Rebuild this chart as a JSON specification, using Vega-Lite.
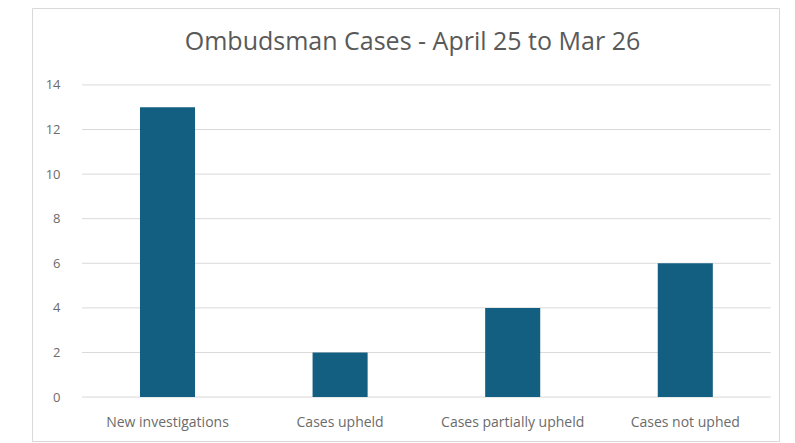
{
  "$schema": "https://vega.github.io/schema/vega-lite/v6.json",
  "width": 747,
  "height": 433,
  "autosize": {"type": "none"},
  "padding": {"left": 32, "top": 8, "right": 16, "bottom": 2},
  "background": "white",
  "config": {"view": {"stroke": "#d9d9d9", "strokeWidth": 1}, "font": "Open Sans"},
  "title": {"text": "Ombudsman Cases - April 25 to Mar 26", "fontSize": 25, "fontWeight": "normal", "color": "#595959", "anchor": "middle", "frame": "group", "baseline": "top", "offset": -47, "dx": 7},
  "datasets": {
    "cases": [
      {"category": "New investigations", "count": 13},
      {"category": "Cases upheld", "count": 2},
      {"category": "Cases partially upheld", "count": 4},
      {"category": "Cases not uphed", "count": 6}
    ],
    "grid": [{"v": 0}, {"v": 2}, {"v": 4}, {"v": 6}, {"v": 8}, {"v": 10}, {"v": 12}, {"v": 14}]
  },
  "layer": [
    {
      "data": {"name": "grid"},
      "mark": {"type": "rule", "color": "#d9d9d9", "strokeWidth": 1},
      "encoding": {
        "y": {"field": "v", "type": "quantitative", "scale": {"domain": [-1.97, 17.45], "nice": false, "zero": false},
              "axis": {"values": [0, 2, 4, 6, 8, 10, 12, 14], "grid": false, "domain": false, "ticks": false, "title": null, "labelColor": "#6b6b6b", "labelFontSize": 13, "offset": -30, "labelPadding": 2}},
        "x": {"datum": 0.067, "type": "quantitative", "scale": {"domain": [0, 1], "nice": false, "zero": false}, "axis": null},
        "x2": {"datum": 0.989}
      }
    },
    {
      "data": {"name": "cases"},
      "mark": {"type": "bar", "color": "#125f82"},
      "encoding": {
        "x": {"field": "category", "type": "nominal", "sort": null,
              "scale": {"paddingInner": 0.681, "paddingOuter": 0.5045, "align": 0.62},
              "axis": {"title": null, "domain": false, "ticks": false, "labelAngle": 0, "labelColor": "#6b6b6b", "labelFontSize": 14, "offset": -44, "labelPadding": 18}},
        "y": {"field": "count", "type": "quantitative",
              "axis": {"values": [0, 2, 4, 6, 8, 10, 12, 14], "grid": false, "domain": false, "ticks": false, "title": null, "labelColor": "#6b6b6b", "labelFontSize": 13, "offset": -30, "labelPadding": 2}},
        "y2": {"datum": 0}
      }
    }
  ],
  "resolve": {"scale": {"x": "independent"}, "axis": {"x": "independent"}}
}
